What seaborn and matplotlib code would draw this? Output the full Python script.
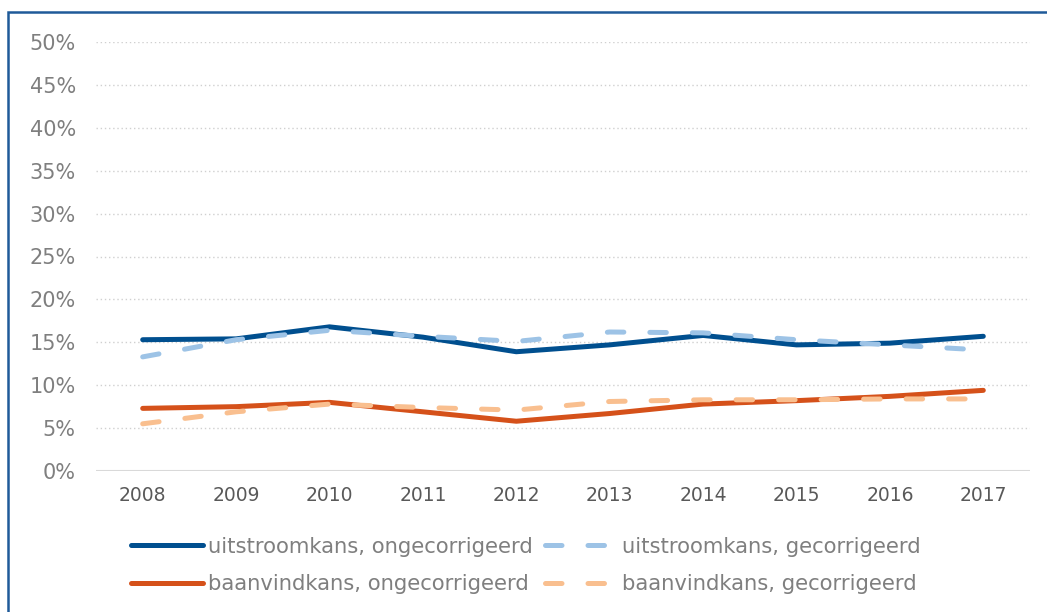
import matplotlib
matplotlib.use("Agg")
import matplotlib.pyplot as plt
import seaborn as sns
from matplotlib.patches import Rectangle
from matplotlib.ticker import PercentFormatter

years = [2008, 2009, 2010, 2011, 2012, 2013, 2014, 2015, 2016, 2017]
uit_onge = [0.153, 0.154, 0.168, 0.156, 0.139, 0.147, 0.158, 0.147, 0.149, 0.157]
uit_ge = [0.133, 0.153, 0.164, 0.157, 0.151, 0.162, 0.161, 0.153, 0.147, 0.141]
baan_onge = [0.073, 0.075, 0.080, 0.069, 0.058, 0.067, 0.078, 0.082, 0.087, 0.094]
baan_ge = [0.055, 0.069, 0.078, 0.074, 0.071, 0.081, 0.083, 0.083, 0.084, 0.084]
labels = ["uitstroomkans, ongecorrigeerd", "uitstroomkans, gecorrigeerd",
          "baanvindkans, ongecorrigeerd", "baanvindkans, gecorrigeerd"]

sns.set_theme(style="white")
plt.rcParams["font.family"] = ["DejaVu Sans"]

fig = plt.figure(figsize=(10.47, 6.12), dpi=100)
ax = fig.add_axes([96 / 1047, 1 - 471 / 612, (1030 - 96) / 1047, (471 - 42) / 612])

series = [
    (uit_onge, "#004f8f", "-"),
    (uit_ge, "#9dc3e6", (0, (3.3, 5.2))),
    (baan_onge, "#d5511a", "-"),
    (baan_ge, "#f9bf8f", (0, (3.3, 5.2))),
]
for (vals, col, ls), lab in zip(series, labels):
    sns.lineplot(x=years, y=vals, ax=ax, color=col, linestyle=ls, linewidth=3.6,
                 label=lab, solid_capstyle="round", dash_capstyle="round")

ax.set_xlim(2007.5, 2017.5)
ax.set_ylim(0, 0.5)
ax.set_yticks([i * 0.05 for i in range(11)])
ax.set_xticks(years)
ax.yaxis.set_major_formatter(PercentFormatter(1.0, decimals=0))
ax.grid(axis="y", color="#d0d0d0", linestyle=(0, (1, 2)), linewidth=1.0)
ax.grid(axis="x", visible=False)
ax.axhline(0, color="#d9d9d9", linewidth=1.5, zorder=1)
for s in ax.spines.values():
    s.set_visible(False)
ax.tick_params(axis="y", length=0, pad=14.5, labelsize=15, labelcolor="#7f7f7f")
ax.tick_params(axis="x", length=0, pad=11, labelsize=13.5, labelcolor="#595959")
ax.set_xlabel("")
ax.set_ylabel("")

handles, labs = ax.get_legend_handles_labels()
ax.get_legend().remove()
order = [0, 2, 1, 3]
leg = fig.legend([handles[i] for i in order], [labs[i] for i in order], ncol=2, loc="center",
                 bbox_to_anchor=(526 / 1047, 1 - 565.5 / 612),
                 frameon=False, fontsize=15.2, handlelength=3.4, handletextpad=0.25,
                 columnspacing=0.6, labelspacing=0.85)
for t in leg.get_texts():
    t.set_color("#7f7f7f")

fig.add_artist(Rectangle((8 / 1047, -0.1), 1.2, 1 - 12 / 612 + 0.1, transform=fig.transFigure,
                         fill=False, edgecolor="#1f5a99", linewidth=1.8))

fig.savefig("out.png", dpi=100)
